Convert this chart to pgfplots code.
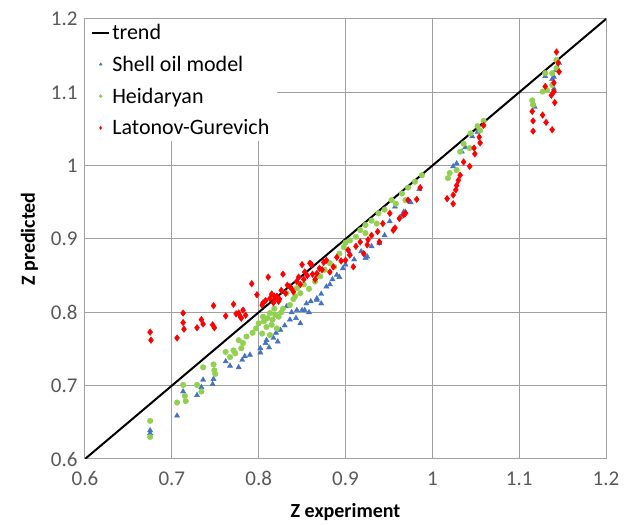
\documentclass[border=0pt]{standalone}
\usepackage{pgfplots}
\pgfplotsset{compat=1.18}
\usepackage{fontspec}
\setmainfont{Carlito}
\definecolor{shellblue}{HTML}{4472C4}
\definecolor{heidgreen}{HTML}{92D050}
\definecolor{latred}{HTML}{FF0000}
\definecolor{gridgray}{HTML}{A0A0A0}
\definecolor{ticktext}{HTML}{595959}
\begin{document}
\begin{tikzpicture}
\begin{axis}[
  scale only axis, width=521pt, height=440pt,
  xmin=0.6, xmax=1.2, ymin=0.6, ymax=1.2,
  xtick={0.6,0.7,...,1.2}, ytick={0.6,0.7,...,1.2},
  xmajorgrids, ymajorgrids,
  grid style={gridgray, line width=1pt},
  axis line style={gridgray, line width=1pt},
  major tick length=0pt,
  tick label style={font=\fontsize{21}{25}\selectfont, text=ticktext},
  xticklabel style={yshift=-9pt},
  yticklabel style={xshift=-4pt},
  /pgf/number format/assume math mode=true,
  xlabel={\textbf{Z experiment}}, ylabel={\textbf{Z predicted}},
  label style={font=\fontsize{20}{24}\selectfont},
  xlabel style={yshift=-11pt}, ylabel style={yshift=6pt},
  legend cell align=left,
  legend image post style={mark size=1.6pt},
  legend style={at={(0,1)}, anchor=north west, draw=none, fill=white,
    font=\fontsize{22}{26}\selectfont, row sep=11pt,
    inner xsep=6pt, inner ysep=3pt},
]
\addplot[black, line width=2pt, no markers] coordinates {(0.6,0.6) (1.2,1.2)};
\addlegendentry{trend}

\addplot[only marks, mark=triangle*, mark size=3pt, color=shellblue] coordinates {
(0.675,0.639) (0.675,0.635) (0.706,0.659) (0.713,0.692) (0.729,0.687) (0.734,0.698)
(0.736,0.708) (0.747,0.702) (0.748,0.709) (0.762,0.733) (0.767,0.727) (0.777,0.725)
(0.781,0.735) (0.784,0.740) (0.790,0.742) (0.802,0.751) (0.802,0.745) (0.808,0.758)
(0.809,0.762) (0.817,0.765) (0.820,0.772) (0.825,0.776) (0.830,0.782) (0.836,0.790)
(0.832,0.808) (0.838,0.800) (0.844,0.803) (0.850,0.803) (0.853,0.803) (0.855,0.812)
(0.860,0.815) (0.867,0.817) (0.867,0.819) (0.872,0.825) (0.878,0.835) (0.882,0.838)
(0.885,0.845) (0.890,0.851) (0.893,0.848) (0.897,0.860) (0.900,0.865) (0.905,0.880)
(0.910,0.872) (0.918,0.883) (0.925,0.876) (0.923,0.874) (0.930,0.890) (0.939,0.894)
(0.939,0.896) (0.945,0.905) (0.951,0.924) (0.957,0.944) (0.963,0.930) (0.967,0.937)
(0.969,0.937) (0.975,0.950) (0.985,0.968) (1.024,0.999) (1.028,1.003) (1.034,1.019)
(1.038,1.025) (1.046,1.040) (1.052,1.046) (1.059,1.056) (1.116,1.085) (1.118,1.080)
(1.130,1.122) (1.138,1.118) (1.140,1.121) (1.142,1.130) (1.146,1.140) (1.140,1.105)
(0.812,0.752) (0.822,0.760) (0.843,0.792) (0.848,0.785) (0.858,0.800) (0.872,0.812)
};
\addlegendentry{Shell oil model}

\addplot[only marks, mark=*, mark size=2.8pt, color=heidgreen] coordinates {
(0.675,0.652) (0.675,0.630) (0.706,0.677) (0.713,0.701) (0.715,0.686) (0.716,0.679)
(0.729,0.701) (0.734,0.692) (0.736,0.725) (0.748,0.729) (0.749,0.721) (0.750,0.716)
(0.762,0.746) (0.767,0.739) (0.771,0.748) (0.773,0.744) (0.777,0.762) (0.780,0.751)
(0.782,0.758) (0.786,0.767) (0.793,0.772) (0.797,0.778) (0.800,0.785) (0.804,0.771)
(0.805,0.794) (0.806,0.788) (0.809,0.780) (0.813,0.769) (0.813,0.799) (0.816,0.790)
(0.818,0.805) (0.821,0.778) (0.823,0.794) (0.826,0.800) (0.832,0.826) (0.836,0.810)
(0.840,0.818) (0.844,0.833) (0.848,0.826) (0.852,0.838) (0.858,0.832) (0.865,0.842)
(0.868,0.850) (0.871,0.849) (0.876,0.858) (0.882,0.867) (0.887,0.862) (0.893,0.880)
(0.898,0.889) (0.900,0.895) (0.905,0.898) (0.912,0.903) (0.917,0.912) (0.923,0.908)
(0.923,0.919) (0.930,0.925) (0.936,0.921) (0.938,0.935) (0.945,0.940) (0.953,0.953)
(0.958,0.948) (0.965,0.962) (0.969,0.953) (0.972,0.970) (0.980,0.978) (0.988,0.987)
(1.018,0.983) (1.020,0.990) (1.028,0.994) (1.032,1.019) (1.036,1.030) (1.043,1.024)
(1.044,1.044) (1.052,1.054) (1.059,1.061) (1.055,1.048) (1.115,1.089) (1.116,1.083)
(1.127,1.101) (1.130,1.126) (1.132,1.103) (1.138,1.110) (1.138,1.126) (1.143,1.133)
(1.143,1.144) (0.810,0.792) (0.815,0.783) (0.819,0.797) (0.828,0.805) (0.842,0.822)
};
\addlegendentry{Heidaryan}

\addplot[only marks, mark=diamond*, mark size=3.3pt, color=latred] coordinates {
(0.675,0.773) (0.676,0.762) (0.706,0.765) (0.713,0.799) (0.713,0.786) (0.714,0.777)
(0.729,0.779) (0.734,0.790) (0.736,0.784) (0.748,0.809) (0.747,0.783) (0.749,0.779)
(0.762,0.795) (0.771,0.811) (0.774,0.798) (0.777,0.799) (0.779,0.794) (0.782,0.803)
(0.780,0.792) (0.785,0.796) (0.792,0.839) (0.798,0.824) (0.804,0.810) (0.805,0.813)
(0.811,0.848) (0.813,0.819) (0.815,0.825) (0.817,0.813) (0.819,0.819) (0.821,0.822)
(0.823,0.815) (0.826,0.830) (0.828,0.852) (0.833,0.837) (0.836,0.835) (0.840,0.828)
(0.844,0.842) (0.848,0.838) (0.850,0.865) (0.852,0.845) (0.856,0.850) (0.859,0.867)
(0.861,0.865) (0.865,0.845) (0.867,0.853) (0.870,0.860) (0.875,0.868) (0.878,0.871)
(0.882,0.855) (0.886,0.862) (0.890,0.875) (0.895,0.870) (0.900,0.871) (0.903,0.885)
(0.905,0.878) (0.909,0.862) (0.912,0.890) (0.917,0.896) (0.921,0.880) (0.925,0.892)
(0.926,0.899) (0.930,0.905) (0.937,0.910) (0.939,0.896) (0.943,0.921) (0.951,0.935)
(0.955,0.912) (0.957,0.915) (0.962,0.928) (0.967,0.933) (0.969,0.935) (0.972,0.953)
(0.982,0.954) (0.986,0.970) (1.017,0.955) (1.024,0.948) (1.024,0.960) (1.027,0.967)
(1.028,0.973) (1.030,0.980) (1.032,0.987) (1.036,1.005) (1.043,0.999) (1.048,1.024)
(1.049,1.016) (1.054,1.039) (1.055,1.031) (1.059,1.055) (1.115,1.074) (1.116,1.061)
(1.116,1.047) (1.127,1.069) (1.130,1.108) (1.131,1.059) (1.137,1.096) (1.138,1.049)
(1.140,1.101) (1.140,1.113) (1.141,1.086) (1.143,1.155) (1.145,1.140) (1.146,1.128)
(0.808,0.816) (0.818,0.822) (0.824,0.818) (0.831,0.826) (0.838,0.832) (0.846,0.848)
(0.853,0.855) (0.862,0.852) (0.873,0.858)
};
\addlegendentry{Latonov-Gurevich}
\end{axis}
\path (current axis.south west) ++(-85pt,-65pt);
\path (current axis.north east) ++(25pt,19pt);
\end{tikzpicture}
\end{document}
